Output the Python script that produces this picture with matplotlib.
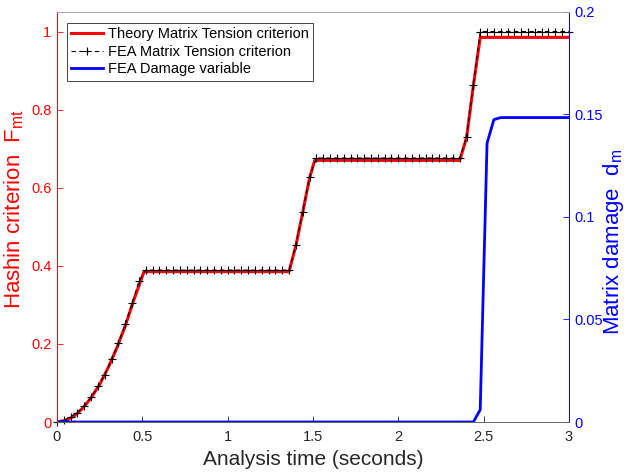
import matplotlib
matplotlib.use("Agg")
import matplotlib.pyplot as plt
from matplotlib.ticker import FormatStrFormatter

plt.rcParams['font.family'] = ['Liberation Sans', 'DejaVu Sans']
plt.rcParams['mathtext.fontset'] = 'custom'
plt.rcParams['mathtext.rm'] = 'Liberation Sans'

# theory curve
t_theory = [0, 0.05, 0.1, 0.15, 0.2, 0.25, 0.3, 0.35, 0.4, 0.45, 0.51,
            1.36, 1.40, 1.44, 1.48, 1.51,
            2.36, 2.40, 2.44, 2.48, 3.0]
f_theory = [0, 0.004, 0.015, 0.035, 0.062, 0.096, 0.139, 0.189, 0.246, 0.312, 0.385,
            0.385, 0.452, 0.537, 0.625, 0.67,
            0.67, 0.728, 0.862, 0.985, 0.985]

# FEA hashin criterion, one value every 0.04 s
t_fea = [0.00, 0.04, 0.08, 0.12, 0.16, 0.20, 0.24, 0.28, 0.32, 0.36, 0.40, 0.44, 0.48,
         0.52, 0.56, 0.60, 0.64, 0.68, 0.72, 0.76, 0.80, 0.84, 0.88, 0.92, 0.96,
         1.00, 1.04, 1.08, 1.12, 1.16, 1.20, 1.24, 1.28, 1.32, 1.36,
         1.40, 1.44, 1.48,
         1.52, 1.56, 1.60, 1.64, 1.68, 1.72, 1.76, 1.80, 1.84, 1.88, 1.92, 1.96,
         2.00, 2.04, 2.08, 2.12, 2.16, 2.20, 2.24, 2.28, 2.32, 2.36,
         2.40, 2.44,
         2.48, 2.52, 2.56, 2.60, 2.64, 2.68, 2.72, 2.76, 2.80, 2.84, 2.88, 2.92, 2.96, 3.00]
f_fea = [0.0, 0.004, 0.014, 0.024, 0.041, 0.064, 0.091, 0.121, 0.161, 0.202, 0.250, 0.304, 0.360,
         0.389, 0.389, 0.389, 0.389, 0.389, 0.389, 0.389, 0.389, 0.389, 0.389, 0.389, 0.389,
         0.389, 0.389, 0.389, 0.389, 0.389, 0.389, 0.389, 0.389, 0.389, 0.389,
         0.454, 0.539, 0.627,
         0.676, 0.676, 0.676, 0.676, 0.676, 0.676, 0.676, 0.676, 0.676, 0.676, 0.676, 0.676,
         0.676, 0.676, 0.676, 0.676, 0.676, 0.676, 0.676, 0.676, 0.676, 0.676,
         0.730, 0.864,
         1.0, 1.0, 1.0, 1.0, 1.0, 1.0, 1.0, 1.0, 1.0, 1.0, 1.0, 1.0, 1.0, 1.0]

# FEA damage variable
t_dmg = [0, 2.44, 2.48, 2.52, 2.56, 2.60, 3.0]
d_dmg = [0, 0.0, 0.006, 0.136, 0.1475, 0.1485, 0.1485]

fig = plt.figure(figsize=(6.24, 4.74), dpi=100)
ax = fig.add_axes([0.0913, 0.1097, 0.8205, 0.865])
ax2 = ax.twinx()

l1, = ax.plot(t_theory, f_theory, color='red', lw=2.2,
              label='Theory Matrix Tension criterion')
l2, = ax.plot(t_fea, f_fea, color='black', ls='--', dashes=(4, 3), lw=0.8,
              marker='+', ms=5.5, mew=0.8, clip_on=False,
              label='FEA Matrix Tension criterion')
l3, = ax2.plot(t_dmg, d_dmg, color='blue', lw=2, label='FEA Damage variable')

ax.set_xlim(0, 3)
ax.set_ylim(0, 1.05)
ax2.set_ylim(0, 0.2)
ax.set_xticks([0, 0.5, 1, 1.5, 2, 2.5, 3])
ax.set_yticks([0, 0.2, 0.4, 0.6, 0.8, 1])
ax2.set_yticks([0, 0.05, 0.1, 0.15, 0.2])
for a in (ax.xaxis, ax.yaxis, ax2.yaxis):
    a.set_major_formatter(FormatStrFormatter('%g'))

ax.tick_params(axis='x', direction='in', length=4, width=0.6, colors='0.15', labelsize=10.5, pad=6)
ax.tick_params(axis='y', direction='in', length=4, width=0.6, colors='red', labelsize=10.5, pad=4)
ax2.tick_params(axis='y', direction='in', length=4, width=0.6, colors='blue', labelsize=10.5, pad=4)

for a in (ax, ax2):
    a.spines['top'].set_color('0.65')
    a.spines['bottom'].set_color('0.4')
    a.spines['left'].set_color('red')
    a.spines['right'].set_color('blue')
    for s in a.spines.values():
        s.set_linewidth(0.6)

ax.set_xlabel('Analysis time (seconds)', fontsize=15, color='0.15', labelpad=4)
ax.set_ylabel(r'Hashin criterion  $\mathregular{F_{mt}}$', fontsize=16, color='red')
ax2.set_ylabel(r'Matrix damage  $\mathregular{d_m}$', fontsize=16, color='blue')
ax.yaxis.set_label_coords(-0.06, 0.52)
ax2.yaxis.set_label_coords(1.062, 0.44)

leg = ax2.legend(handles=[l1, l2, l3], loc='upper left', bbox_to_anchor=(0.0195, 0.974),
                 borderaxespad=0, fontsize=10.5, fancybox=False, framealpha=1,
                 edgecolor='0.15', handlelength=2.2, handletextpad=0.3,
                 borderpad=0.3, labelspacing=0.25)
leg.get_frame().set_linewidth(0.6)

fig.savefig('out.png', dpi=100)
